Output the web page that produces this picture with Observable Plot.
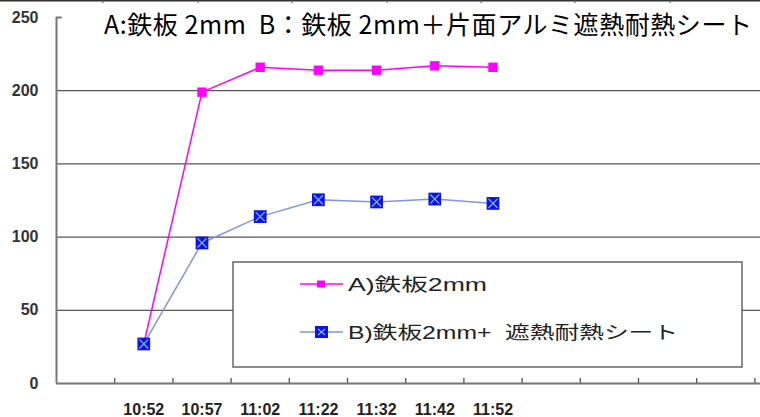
<!DOCTYPE html>
<html>
<head>
<meta charset="utf-8">
<script src="https://cdn.jsdelivr.net/npm/d3@7"></script>
<script src="https://cdn.jsdelivr.net/npm/@observablehq/plot@0.6"></script>
<style>
  html, body { margin: 0; padding: 0; background: #fff; }
  #chart { position: relative; width: 760px; height: 417px; }
</style>
</head>
<body>
<div id="chart"></div>
<script>
// ---- data ----
const times = ["10:52", "10:57", "11:02", "11:22", "11:32", "11:42", "11:52"];
const seriesA = [27, 199, 216, 214, 214, 217, 216];   // A)鉄板2mm
const seriesB = [27, 96, 114, 125.5, 124, 126, 123];  // B)鉄板2mm+ 遮熱耐熱シート
const yTicks = [0, 50, 100, 150, 200, 250];
const gridValues = [50, 100, 150, 200];
const slotCount = 12;        // category slots on the x axis (first slot empty)
const firstSlot = 1;
const titleText = "A:鉄板 2mm  B：鉄板 2mm＋片面アルミ遮熱耐熱シート";
const legendA = "A)鉄板2mm";
const legendB = "B)鉄板2mm+  遮熱耐熱シート";

const colorA = "#ff00ff";
const colorB = "#8393e6";
const markerB = "#0a14ee";

const rows = times.map((t, i) => ({t, pos: firstSlot + i + 0.5, a: seriesA[i], b: seriesB[i]}));

const W = 760, H = 417;
const mL = 56, mR = 0, mT = 17, mB = 34;
const unit = 58.2;
const xMax = (W - mL - mR) / unit;

const plot = Plot.plot({
  width: W, height: H,
  marginLeft: mL, marginRight: mR, marginTop: mT, marginBottom: mB,
  style: {background: "#fff", overflow: "visible"},
  x: {type: "linear", domain: [0, xMax]},
  y: {domain: [0, 250]},
  marks: [
    Plot.ruleY(gridValues, {stroke: "#555", strokeWidth: 1.3}),
    Plot.ruleX([0], {y1: 0, y2: 250, stroke: "#777", strokeWidth: 2}),
    Plot.ruleY([0], {stroke: "#777", strokeWidth: 2}),
    Plot.ruleY([250], {x1: 0, x2: 0.1, stroke: "#777", strokeWidth: 2}),
    Plot.ruleX(d3.range(1, slotCount + 1), {y1: 0, y2: 3.4, stroke: "#555", strokeWidth: 1.3}),
    Plot.axisY({ticks: yTicks, tickSize: 0, tickPadding: 18, fontSize: 16, fontWeight: "bold", fill: "#333",
      fontFamily: "'Liberation Sans', Arial, sans-serif", label: null}),
    Plot.axisX({ticks: rows.map(d => d.pos), tickSize: 0, tickPadding: 20,
      tickFormat: (d) => times[Math.round(d - firstSlot - 0.5)],
      fontSize: 16, fontWeight: "bold", fill: "#222",
      fontFamily: "'Liberation Sans', Arial, sans-serif", label: null}),
    Plot.line(rows, {x: "pos", y: "a", stroke: colorA, strokeWidth: 1.5}),
    Plot.dot(rows, {x: "pos", y: "a", symbol: "square", r: 5.3, fill: colorA}),
    Plot.line(rows, {x: "pos", y: "b", stroke: colorB, strokeWidth: 1.5}),
    Plot.dot(rows, {x: "pos", y: "b", symbol: "square", r: 7.2, fill: markerB}),
    Plot.dot(rows, {x: "pos", y: "b", symbol: "times", r: 4.2, stroke: "#8fb2ff", strokeWidth: 1.2})
  ]
});

const svg = d3.select(plot);

// top border line (edge of frame above)
const topEdge = svg.append("g");
topEdge.append("line").attr("x1", 0).attr("x2", W).attr("y1", 0.8).attr("y2", 0.8)
  .attr("stroke", "#333").attr("stroke-width", 1.6);
[103, 198, 292, 387, 481, 575, 670].forEach(x => {
  topEdge.append("line").attr("x1", x).attr("x2", x).attr("y1", 0).attr("y2", 3)
    .attr("stroke", "#555").attr("stroke-width", 1);
});

// title
svg.append("text")
  .attr("x", 104).attr("y", 34)
  .attr("text-anchor", "start")
  .attr("font-family", "'Noto Sans CJK JP', sans-serif")
  .attr("font-size", 25)
  .attr("fill", "#000")
  .attr("textLength", 648).attr("lengthAdjust", "spacing")
  .style("white-space", "pre")
  .text(titleText);

// legend
const lg = svg.append("g").attr("text-anchor", "start");
lg.append("rect").attr("x", 233).attr("y", 262).attr("width", 509).attr("height", 105)
  .attr("fill", "#fff").attr("stroke", "#666").attr("stroke-width", 1.5);
const legendFont = "'Liberation Sans', 'Noto Sans CJK JP', Arial, sans-serif";
lg.append("line").attr("x1", 300).attr("x2", 343).attr("y1", 284).attr("y2", 284)
  .attr("stroke", colorA).attr("stroke-width", 1.5);
lg.append("rect").attr("x", 317).attr("y", 280.5).attr("width", 8).attr("height", 7).attr("fill", colorA);
lg.append("text").attr("x", 348).attr("y", 290.5)
  .attr("text-anchor", "start")
  .attr("font-family", legendFont).attr("font-size", 18).attr("fill", "#222")
  .attr("textLength", 139).attr("lengthAdjust", "spacingAndGlyphs")
  .text(legendA);
lg.append("line").attr("x1", 300).attr("x2", 343).attr("y1", 332).attr("y2", 332)
  .attr("stroke", colorB).attr("stroke-width", 1.5);
lg.append("rect").attr("x", 315).attr("y", 326).attr("width", 13).attr("height", 12).attr("fill", markerB);
lg.append("path").attr("d", "M318,329L325,335M325,329L318,335").attr("stroke", "#8fb2ff").attr("stroke-width", 1.2);
lg.append("text").attr("x", 348).attr("y", 339)
  .attr("text-anchor", "start")
  .attr("font-family", legendFont).attr("font-size", 18).attr("fill", "#222")
  .attr("textLength", 330).attr("lengthAdjust", "spacingAndGlyphs")
  .style("white-space", "pre")
  .text(legendB);

document.getElementById("chart").appendChild(plot);
</script>
</body>
</html>
